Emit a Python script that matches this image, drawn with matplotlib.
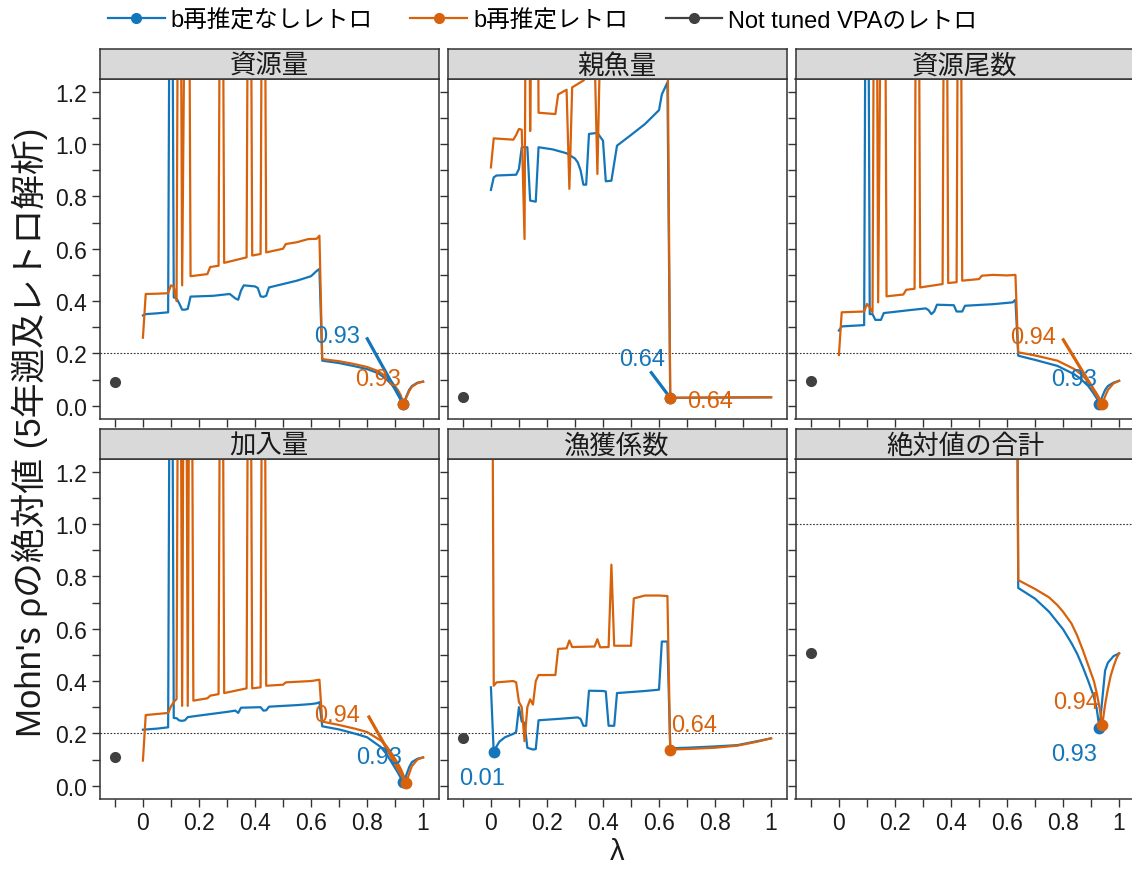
import matplotlib
matplotlib.use("Agg")
import matplotlib.pyplot as plt
from matplotlib.lines import Line2D
import numpy as np

plt.rcParams['font.family'] = ['Liberation Sans', 'Noto Sans CJK JP', 'DejaVu Sans']

# ---------------- data ----------------
panel_titles = ["資源量", "親魚量", "資源尾数", "加入量", "漁獲係数", "絶対値の合計"]
series_names = ["b再推定なしレトロ", "b再推定レトロ", "Not tuned VPAのレトロ"]
ref_lines = [0.2, 0.2, 0.2, 0.2, 0.2, 1.0]
vpa_lambda = -0.1
vpa_rho = [0.092, 0.032, 0.093, 0.108, 0.181, 0.506]

# 資源量
lam_biomass_b0 = [0, 0.01, 0.05, 0.09, 0.10, 0.11, 0.12, 0.13, 0.14, 0.15, 0.16, 0.17, 0.25, 0.31, 0.33, 0.34,
                  0.35, 0.36, 0.40, 0.41, 0.42, 0.43, 0.44, 0.45, 0.50, 0.55, 0.60, 0.61, 0.62, 0.63, 0.64,
                  0.70, 0.75, 0.80, 0.84, 0.87, 0.89, 0.91, 0.92, 0.93, 0.94, 0.95, 0.96, 0.98, 1.00]
rho_biomass_b0 = [0.345, 0.350, 0.353, 0.357, 3.0, 0.414, 0.410, 0.390, 0.367, 0.367, 0.370, 0.417, 0.420,
                  0.427, 0.410, 0.405, 0.440, 0.460, 0.456, 0.450, 0.418, 0.416, 0.420, 0.452, 0.465, 0.478,
                  0.495, 0.505, 0.515, 0.523, 0.172, 0.163, 0.152, 0.140, 0.124, 0.100, 0.078, 0.052, 0.032,
                  0.006, 0.035, 0.060, 0.075, 0.088, 0.092]
lam_biomass_b1 = [0, 0.01, 0.05, 0.09, 0.10, 0.11, 0.12, 0.13, 0.14, 0.16, 0.17, 0.23, 0.24, 0.27, 0.28, 0.29,
                  0.37, 0.38, 0.39, 0.42, 0.43, 0.44, 0.50, 0.51, 0.55, 0.59, 0.62, 0.63, 0.64, 0.70, 0.75,
                  0.80, 0.84, 0.87, 0.89, 0.91, 0.92, 0.93, 0.94, 0.95, 0.96, 0.98, 1.00]
rho_biomass_b1 = [0.260, 0.427, 0.428, 0.430, 0.460, 0.455, 0.400, 3.0, 0.460, 3.0, 0.495, 0.503, 0.530,
                  0.535, 3.0, 0.546, 0.567, 3.0, 0.574, 0.580, 3.0, 0.586, 0.600, 0.618, 0.625, 0.637,
                  0.638, 0.650, 0.178, 0.170, 0.160, 0.148, 0.132, 0.110, 0.088, 0.060, 0.040, 0.005,
                  0.030, 0.055, 0.072, 0.086, 0.092]

# 親魚量
lam_ssb_b0 = [0, 0.01, 0.02, 0.09, 0.10, 0.11, 0.13, 0.14, 0.16, 0.17, 0.22, 0.27, 0.30, 0.31, 0.32, 0.33,
              0.34, 0.35, 0.38, 0.40, 0.41, 0.43, 0.45, 0.50, 0.55, 0.60, 0.61, 0.63, 0.64, 0.80, 1.00]
rho_ssb_b0 = [0.825, 0.873, 0.880, 0.883, 0.905, 0.988, 0.988, 0.784, 0.780, 0.988, 0.980, 0.965, 0.945,
              0.930, 0.900, 0.845, 0.845, 1.039, 1.043, 1.013, 0.858, 0.860, 0.994, 1.035, 1.077, 1.130,
              1.190, 1.236, 0.030, 0.031, 0.032]
lam_ssb_b1 = [0, 0.01, 0.08, 0.09, 0.10, 0.11, 0.12, 0.13, 0.14, 0.16, 0.17, 0.23, 0.24, 0.27, 0.28, 0.29,
              0.33, 0.36, 0.37, 0.38, 0.39, 0.50, 0.63, 0.64, 0.80, 1.00]
rho_ssb_b1 = [0.911, 1.022, 1.017, 1.035, 1.058, 1.055, 0.637, 3.0, 1.050, 3.0, 1.120, 1.115, 1.190, 1.208,
              0.829, 1.217, 1.243, 1.280, 1.350, 0.886, 1.400, 1.450, 1.500, 0.030, 0.031, 0.032]

# 資源尾数
lam_number_b0 = [0, 0.01, 0.09, 0.10, 0.11, 0.12, 0.13, 0.15, 0.16, 0.25, 0.31, 0.32, 0.33, 0.34, 0.35,
                 0.41, 0.42, 0.44, 0.45, 0.50, 0.55, 0.60, 0.62, 0.63, 0.64, 0.70, 0.78, 0.84, 0.86, 0.89,
                 0.91, 0.92, 0.93, 0.94, 0.95, 0.96, 0.98, 1.00]
rho_number_b0 = [0.287, 0.303, 0.308, 3.0, 0.350, 0.350, 0.328, 0.328, 0.354, 0.365, 0.372, 0.365, 0.350,
                 0.360, 0.386, 0.384, 0.360, 0.360, 0.382, 0.385, 0.388, 0.393, 0.395, 0.405, 0.191, 0.175,
                 0.152, 0.120, 0.105, 0.075, 0.045, 0.028, 0.006, 0.035, 0.060, 0.075, 0.088, 0.095]
lam_number_b1 = [0, 0.01, 0.09, 0.10, 0.11, 0.12, 0.13, 0.14, 0.16, 0.17, 0.23, 0.24, 0.27, 0.28, 0.29,
                 0.37, 0.38, 0.39, 0.42, 0.43, 0.44, 0.50, 0.51, 0.55, 0.60, 0.63, 0.64, 0.70, 0.78, 0.84,
                 0.87, 0.89, 0.91, 0.92, 0.93, 0.94, 0.95, 0.96, 0.98, 1.00]
rho_number_b1 = [0.194, 0.357, 0.360, 0.389, 0.375, 0.357, 3.0, 0.395, 3.0, 0.418, 0.425, 0.443, 0.447,
                 3.0, 0.452, 0.465, 3.0, 0.469, 0.472, 3.0, 0.478, 0.484, 0.497, 0.500, 0.498, 0.500,
                 0.204, 0.192, 0.172, 0.140, 0.115, 0.090, 0.060, 0.045, 0.025, 0.006, 0.035, 0.060,
                 0.085, 0.095]

# 加入量
lam_recruit_b0 = [0, 0.05, 0.09, 0.10, 0.11, 0.12, 0.13, 0.14, 0.15, 0.16, 0.20, 0.25, 0.30, 0.33, 0.34,
                  0.35, 0.42, 0.43, 0.44, 0.45, 0.50, 0.55, 0.60, 0.62, 0.63, 0.64, 0.70, 0.76, 0.80, 0.85,
                  0.87, 0.89, 0.91, 0.92, 0.93, 0.94, 0.95, 0.96, 0.98, 1.00]
rho_recruit_b0 = [0.214, 0.218, 0.223, 3.0, 0.259, 0.258, 0.249, 0.248, 0.250, 0.262, 0.268, 0.275, 0.282,
                  0.287, 0.278, 0.298, 0.300, 0.287, 0.288, 0.302, 0.305, 0.308, 0.312, 0.315, 0.319,
                  0.227, 0.215, 0.198, 0.185, 0.147, 0.120, 0.085, 0.050, 0.030, 0.013, 0.040, 0.070,
                  0.090, 0.103, 0.108]
lam_recruit_b1 = [0, 0.01, 0.09, 0.10, 0.11, 0.12, 0.13, 0.14, 0.15, 0.16, 0.17, 0.18, 0.23, 0.24, 0.27,
                  0.28, 0.29, 0.37, 0.38, 0.39, 0.42, 0.43, 0.44, 0.50, 0.51, 0.60, 0.63, 0.64, 0.70, 0.76,
                  0.80, 0.85, 0.87, 0.89, 0.91, 0.92, 0.93, 0.94, 0.95, 0.96, 0.98, 1.00]
rho_recruit_b1 = [0.096, 0.270, 0.278, 0.303, 0.320, 0.331, 3.0, 0.305, 3.0, 0.305, 3.0, 0.325, 0.334,
                  0.344, 0.350, 3.0, 0.354, 0.372, 3.0, 0.372, 0.376, 3.0, 0.382, 0.386, 0.395, 0.400,
                  0.405, 0.245, 0.232, 0.217, 0.205, 0.172, 0.150, 0.120, 0.085, 0.065, 0.040, 0.010,
                  0.045, 0.075, 0.100, 0.108]

# 漁獲係数
lam_q_b0 = [0, 0.01, 0.02, 0.03, 0.05, 0.08, 0.09, 0.10, 0.11, 0.12, 0.13, 0.15, 0.16, 0.17, 0.25, 0.31,
            0.32, 0.33, 0.34, 0.35, 0.40, 0.41, 0.42, 0.44, 0.45, 0.50, 0.55, 0.60, 0.61, 0.63, 0.64, 0.70,
            0.80, 0.88, 0.95, 1.00]
rho_q_b0 = [0.376, 0.127, 0.150, 0.168, 0.185, 0.198, 0.205, 0.300, 0.245, 0.240, 0.145, 0.138, 0.140,
            0.250, 0.256, 0.261, 0.255, 0.229, 0.229, 0.363, 0.362, 0.360, 0.229, 0.229, 0.354, 0.358,
            0.362, 0.367, 0.551, 0.551, 0.143, 0.145, 0.150, 0.155, 0.170, 0.181]
lam_q_b1 = [0, 0.01, 0.02, 0.08, 0.09, 0.10, 0.11, 0.12, 0.13, 0.14, 0.15, 0.16, 0.17, 0.23, 0.24, 0.27,
            0.28, 0.29, 0.37, 0.38, 0.39, 0.42, 0.43, 0.44, 0.50, 0.51, 0.55, 0.60, 0.63, 0.64, 0.70, 0.80,
            0.88, 0.95, 1.00]
rho_q_b1 = [3.0, 0.382, 0.395, 0.400, 0.395, 0.320, 0.300, 0.170, 0.300, 0.330, 0.310, 0.400, 0.423, 0.423,
            0.523, 0.525, 0.555, 0.530, 0.532, 0.560, 0.529, 0.530, 0.845, 0.535, 0.535, 0.716, 0.727,
            0.727, 0.725, 0.138, 0.140, 0.145, 0.153, 0.168, 0.181]

# 絶対値の合計
lam_total_b0 = [0, 0.63, 0.64, 0.70, 0.75, 0.80, 0.83, 0.85, 0.87, 0.89, 0.90, 0.91, 0.92, 0.93, 0.94, 0.95,
                0.96, 0.98, 1.00]
rho_total_b0 = [3.0, 3.0, 0.756, 0.715, 0.665, 0.598, 0.545, 0.505, 0.455, 0.400, 0.370, 0.340, 0.295,
                0.219, 0.330, 0.440, 0.470, 0.495, 0.506]
lam_total_b1 = [0, 0.63, 0.64, 0.70, 0.75, 0.78, 0.80, 0.83, 0.85, 0.87, 0.88, 0.89, 0.90, 0.91, 0.92,
                0.93, 0.94, 0.95, 0.96, 0.97, 0.98, 0.99, 1.00]
rho_total_b1 = [3.0, 3.0, 0.786, 0.752, 0.720, 0.690, 0.665, 0.620, 0.575, 0.520, 0.490, 0.460, 0.430,
                0.400, 0.355, 0.300, 0.232, 0.310, 0.370, 0.420, 0.455, 0.485, 0.506]

lam_b0 = [lam_biomass_b0, lam_ssb_b0, lam_number_b0, lam_recruit_b0, lam_q_b0, lam_total_b0]
rho_b0 = [rho_biomass_b0, rho_ssb_b0, rho_number_b0, rho_recruit_b0, rho_q_b0, rho_total_b0]
lam_b1 = [lam_biomass_b1, lam_ssb_b1, lam_number_b1, lam_recruit_b1, lam_q_b1, lam_total_b1]
rho_b1 = [rho_biomass_b1, rho_ssb_b1, rho_number_b1, rho_recruit_b1, rho_q_b1, rho_total_b1]

x_ticks = [-0.1, 0, 0.1, 0.2, 0.3, 0.4, 0.5, 0.6, 0.7, 0.8, 0.9, 1.0]
x_ticklabels = ["", "0", "", "0.2", "", "0.4", "", "0.6", "", "0.8", "", "1"]
y_ticks = [0, 0.1, 0.2, 0.3, 0.4, 0.5, 0.6, 0.7, 0.8, 0.9, 1.0, 1.1, 1.2]
y_ticklabels = ["0.0", "", "0.2", "", "0.4", "", "0.6", "", "0.8", "", "1.0", "", "1.2"]

# label placement (offsets from the best point, in data units): (text dx, dy, segment start dx, dy or None)
lab_b0 = [(-0.238, 0.262, -0.132, 0.255), (-0.10, 0.148, -0.071, 0.101), (-0.09, 0.096, None, None),
          (-0.088, 0.095, None, None), (-0.04, -0.099, None, None), (-0.09, -0.098, None, None)]
lab_b1 = [(-0.09, 0.097, None, None), (0.143, -0.011, None, None), (-0.246, 0.255, -0.142, 0.251),
          (-0.246, 0.26, -0.136, 0.258), (0.087, 0.094, None, None), (-0.092, 0.089, None, None)]

# ---------------- style ----------------
C_B0 = "#1476BA"
C_B1 = "#D8620C"
C_VPA = "#404040"
EDGE = "#333333"
W, H = 1132, 870
col_left = [99.5, 447.5, 795.5]
row_top = [80, 460]
PW, PH, SH = 339, 340, 30

fig = plt.figure(figsize=(W / 100, H / 100), dpi=100)

for i, title in enumerate(panel_titles):
    r, c = divmod(i, 3)
    l = col_left[c]
    t = row_top[r]
    ax = fig.add_axes([l / W, 1 - (t + PH) / H, PW / W, PH / H])
    st = fig.add_axes([l / W, 1 - t / H, PW / W, SH / H])
    st.set_facecolor("#D9D9D9")
    st.set_xticks([]); st.set_yticks([])
    for sp in st.spines.values():
        sp.set_color(EDGE); sp.set_linewidth(1.1)
    st.text(0.5, 0.46, title, ha="center", va="center", fontsize=19, color="#1A1A1A",
            transform=st.transAxes)

    ax.axhline(ref_lines[i], color=EDGE, lw=0.8, ls=(0, (1.5, 1.5)), zorder=1)
    ax.plot(lam_b0[i], rho_b0[i], color=C_B0, lw=1.6, zorder=2)
    ax.plot(lam_b1[i], rho_b1[i], color=C_B1, lw=1.6, zorder=3)

    ax.plot([vpa_lambda], [vpa_rho[i]], "o", color=C_VPA, ms=8, mec="none", zorder=4)

    for lam, rho, col, lab, z in [(lam_b0[i], rho_b0[i], C_B0, lab_b0[i], 5),
                                  (lam_b1[i], rho_b1[i], C_B1, lab_b1[i], 6)]:
        k = int(np.argmin(rho))
        px, py = lam[k], rho[k]
        ax.plot([px], [py], "o", color=col, ms=8.5, mec="none", zorder=z)
        dx, dy, sx, sy = lab
        if sx is not None:
            ax.plot([px + sx, px], [py + sy, py], color=col, lw=2.3, solid_capstyle="butt", zorder=z)
        ax.text(px + dx, py + dy, f"{px:.2f}", color=col, fontsize=17, ha="center", va="center", zorder=7)

    ax.set_xlim(-0.155, 1.055)
    ax.set_ylim(-0.051, 1.249)
    ax.set_xticks(x_ticks)
    ax.set_yticks(y_ticks)
    if r == 1:
        ax.set_xticklabels(x_ticklabels)
    else:
        ax.set_xticklabels([])
    if c == 0:
        ax.set_yticklabels(y_ticklabels)
    else:
        ax.set_yticklabels([])
    ax.tick_params(direction="out", length=6, width=1.0, color=EDGE, labelsize=16.5,
                   labelcolor="#1A1A1A", pad=3)
    for sp in ax.spines.values():
        sp.set_color(EDGE); sp.set_linewidth(1.1)

fig.text(30 / W, 1 - 432 / H, "Mohn's ρの絶対値 (5年遡及レトロ解析)", rotation=90,
         ha="center", va="center", fontsize=25, color="#1A1A1A")
fig.text(617 / W, 1 - 852 / H, "λ", ha="center", va="center", fontsize=21, color="#1A1A1A")

handles = [Line2D([], [], color=C_B0, lw=1.6, marker="o", ms=7),
           Line2D([], [], color=C_B1, lw=1.6, marker="o", ms=7),
           Line2D([], [], color=C_VPA, lw=1.6, marker="o", ms=7)]
fig.legend(handles, series_names, loc="center left", bbox_to_anchor=(108 / W, 1 - 21 / H),
           ncol=3, frameon=False, fontsize=17, handlelength=2.4, handletextpad=0.25,
           columnspacing=1.6, borderaxespad=0, borderpad=0)

fig.savefig("out.png", dpi=100)
